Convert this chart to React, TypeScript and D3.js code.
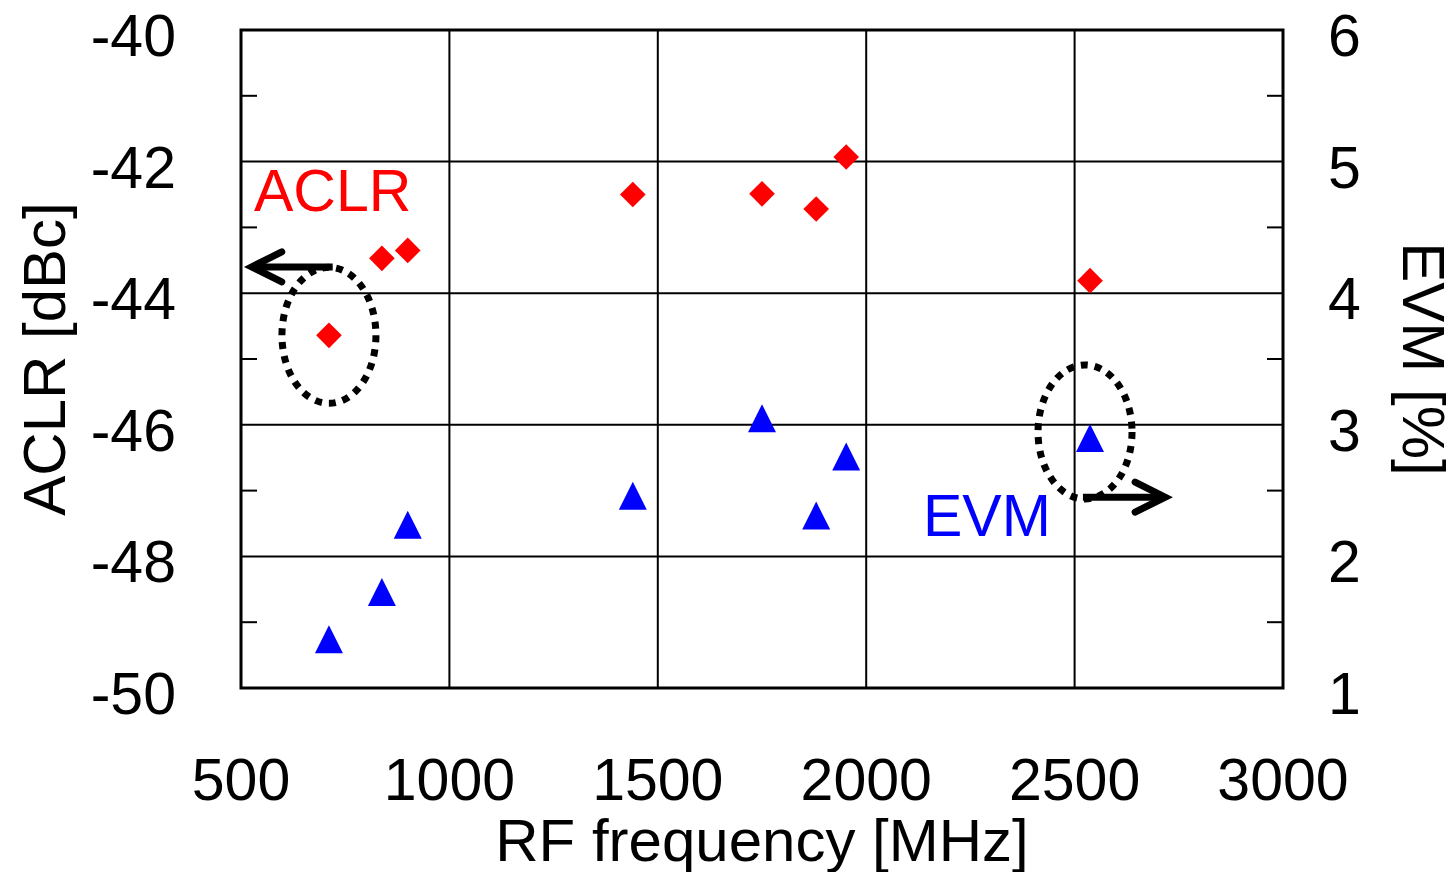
import * as d3 from "d3";

// RF frequency [MHz] of each measured band
const freqs = [711, 838, 900, 1440, 1750, 1880, 1952, 2537];
// ACLR [dBc], left axis
const aclr = [-44.64, -43.47, -43.35, -42.5, -42.49, -42.72, -41.93, -43.81];
// EVM [%], right axis
const evm = [1.37, 1.73, 2.24, 2.46, 3.05, 2.31, 2.76, 2.9];

const xTicks = [500, 1000, 1500, 2000, 2500, 3000];
const yLeftTicks = [-40, -42, -44, -46, -48, -50];
const yRightTicks = [6, 5, 4, 3, 2, 1];

const W = 1453;
const H = 872;
const margin = {left: 241, right: 170, top: 30, bottom: 184};
const FONT = "'Liberation Sans', Arial, sans-serif";
const FS = 59;
const FS_TITLE = 60;

export default function App() {
    const x = d3.scaleLinear().domain([500, 3000]).range([margin.left, W - margin.right]);
    const yL = d3.scaleLinear().domain([-50, -40]).range([H - margin.bottom, margin.top]);
    const yR = d3.scaleLinear().domain([1, 6]).range([H - margin.bottom, margin.top]);
    const x0 = x(500), x1 = x(3000), y0 = yL(-50), y1 = yL(-40);
    const minor = d3.range(-49, -40, 2);

    const diamond = d3.symbol().type(d3.symbolDiamond2).size(420)();
    const tri = (cx: number, cy: number) => `M${cx},${cy - 14}L${cx + 14},${cy + 14}L${cx - 14},${cy + 14}Z`;

    // annotation arrows (data coords)
    const leftArrow = {y: yL(-43.6), from: x(720), to: x(521)};
    const rightArrow = {y: yR(2.45), from: x(2520), to: x(2722)};

    return (
        <svg width={W} height={H} style={{position: "absolute", left: 0, top: 0, background: "#fff"}}
             fontFamily={FONT}>
            {/* grid */}
            {xTicks.slice(1, -1).map(t => (
                <line key={"gx" + t} x1={x(t)} x2={x(t)} y1={y1} y2={y0} stroke="#000" strokeWidth={2}/>
            ))}
            {yLeftTicks.slice(1, -1).map(t => (
                <line key={"gy" + t} x1={x0} x2={x1} y1={yL(t)} y2={yL(t)} stroke="#000" strokeWidth={2}/>
            ))}
            {minor.map(t => (
                <g key={"m" + t}>
                    <line x1={x0} x2={x0 + 16} y1={yL(t)} y2={yL(t)} stroke="#000" strokeWidth={2}/>
                    <line x1={x1 - 16} x2={x1} y1={yL(t)} y2={yL(t)} stroke="#000" strokeWidth={2}/>
                </g>
            ))}
            <rect x={x0} y={y1} width={x1 - x0} height={y0 - y1} fill="none" stroke="#000" strokeWidth={3}/>

            {/* ticks labels */}
            {xTicks.map(t => (
                <text key={"xl" + t} x={x(t)} y={y0 + 112} textAnchor="middle" fontSize={FS}>{t}</text>
            ))}
            {yLeftTicks.map(t => (
                <text key={"yl" + t} x={176} y={yL(t) + 26} textAnchor="end" fontSize={FS}>{t}</text>
            ))}
            {yRightTicks.map(t => (
                <text key={"yr" + t} x={1328} y={yR(t) + 26} textAnchor="start" fontSize={FS}>{t}</text>
            ))}

            {/* axis titles */}
            <text x={(x0 + x1) / 2} y={861} textAnchor="middle" fontSize={FS_TITLE}>RF frequency [MHz]</text>
            <text transform={`translate(65,${(y0 + y1) / 2}) rotate(-90)`} textAnchor="middle" fontSize={FS_TITLE}>ACLR [dBc]</text>
            <text transform={`translate(1403,${(y0 + y1) / 2}) rotate(90)`} textAnchor="middle" fontSize={FS_TITLE}>EVM [%]</text>

            {/* markers */}
            {freqs.map((f, i) => (
                <path key={"a" + i} d={diamond} transform={`translate(${x(f)},${yL(aclr[i])})`} fill="#ff0000"/>
            ))}
            {freqs.map((f, i) => (
                <path key={"e" + i} d={tri(x(f), yR(evm[i]))} fill="#0000ff"/>
            ))}

            {/* series labels */}
            <text x={254} y={211} fontSize={FS} fill="#ff0000">ACLR</text>
            <text x={923} y={536} fontSize={FS} fill="#0000ff">EVM</text>

            {/* dotted ellipses */}
            <ellipse cx={x(freqs[0])} cy={yL(aclr[0])} rx={47} ry={68} fill="none" stroke="#000"
                     strokeWidth={7} strokeDasharray="7 7"/>
            <ellipse cx={x(freqs[7]) - 5} cy={yR(evm[7]) - 6} rx={47} ry={67} fill="none" stroke="#000"
                     strokeWidth={7} strokeDasharray="7 7"/>

            {/* arrows */}
            <g stroke="#000" strokeWidth={7} fill="none" strokeLinecap="round" strokeLinejoin="miter">
                <line x1={leftArrow.from} x2={leftArrow.to + 3} y1={leftArrow.y} y2={leftArrow.y} strokeLinecap="butt"/>
                <polyline points={`${leftArrow.to + 32},${leftArrow.y - 15} ${leftArrow.to + 2},${leftArrow.y} ${leftArrow.to + 32},${leftArrow.y + 15}`}/>
                <line x1={rightArrow.from} x2={rightArrow.to - 3} y1={rightArrow.y} y2={rightArrow.y} strokeLinecap="butt"/>
                <polyline points={`${rightArrow.to - 32},${rightArrow.y - 15} ${rightArrow.to - 2},${rightArrow.y} ${rightArrow.to - 32},${rightArrow.y + 15}`}/>
            </g>
        </svg>
    );
}
